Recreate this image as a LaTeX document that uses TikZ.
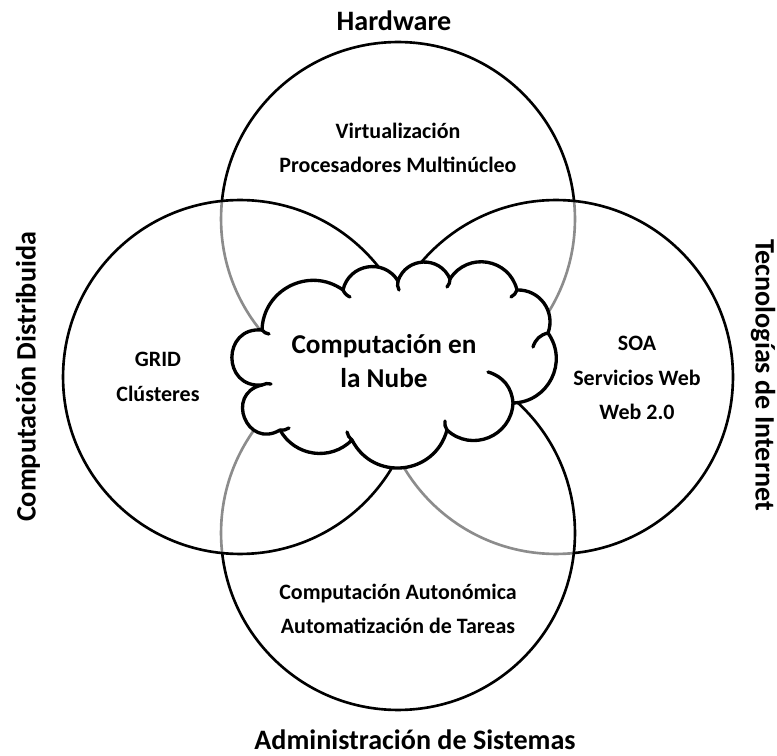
\documentclass[tikz,border=0pt]{standalone}
\usepackage{fontspec}
\setmainfont{Carlito}
\tikzset{
    ring/.style={circle,draw=black,line width=1.5pt,fill=white,fill opacity=0.55,minimum size=7.08cm,inner sep=0pt},
    topic/.style={align=center,font=\bfseries\fontsize{12.5}{19.5}\selectfont},
    heading/.style={font=\bfseries\fontsize{16}{19}\selectfont},
    nube/.style={draw=black,line width=1.9pt,fill=white,line join=round},
    hook/.style={draw=black,line width=1.9pt,line cap=round},
    puff/.style 2 args={bend left=#1,looseness=#2},
}

\begin{document}
\begin{tikzpicture}[x=0.02cm,y=-0.02cm]
    \useasboundingbox (0,0) rectangle (777,756);
    % the four areas, lowest first
    \node[ring] (hw) at (398,219) {};
    \node[ring] (inet) at (556,377) {};
    \node[ring] (admin) at (398,533) {};
    \node[ring] (dist) at (240,377) {};

    % cloud: cusps between the puffs, clockwise from the upper left
    \coordinate (c1) at (262,330);
    \coordinate (c2) at (343,290);
    \coordinate (c3) at (398,281);
    \coordinate (c4) at (450,279);
    \coordinate (c5) at (517,290);
    \coordinate (c6) at (548,333);
    \coordinate (c7) at (513,403);
    \coordinate (c8) at (447,430);
    \coordinate (c9) at (352,440);
    \coordinate (c10) at (280,430);
    \coordinate (c11) at (262,385);
    \path[nube] (c1) to[puff={62}{1.16}] (c2) to[puff={68}{1.24}] (c3)
        to[puff={69}{1.26}] (c4) to[puff={67}{1.23}] (c5) to[puff={56}{1.1}] (c6)
        to[puff={62}{1.16}] (c7) to[puff={65}{1.2}] (c8) to[puff={69}{1.26}] (c9)
        to[puff={53}{1.07}] (c10) to[puff={99}{2.03}] (c11) to[puff={95}{1.88}] (c1) -- cycle;
    % small curls inside the cloud
    \path[hook] (c1) to[bend right=20] (269,334);
    \path[hook] (c2) to[bend right=20] (350,297);
    \path[hook] (c3) to[bend right=20] (399,290);
    \path[hook] (c4) to[bend left=20] (447,287);
    \path[hook] (c5) to[bend left=20] (511,297);
    \path[hook] (c6) to[bend right=30] (533,347);
    \path[hook] (c7) to[bend right=35] (488,372);
    \path[hook] (c8) to[bend left=20] (445,421);
    \path[hook] (c9) to[bend left=20] (347,432);
    \path[hook] (c10) to[bend right=20] (289,428);
    \path[hook] (c11) to[bend left=20] (271,384);
    \node[font=\bfseries\fontsize{15.5}{19}\selectfont,align=center] (nubetext) at (384,361) {Computación en\\la Nube};

    % headings round the outside
    \node[heading] (hwname) at (394,21) {Hardware};
    \node[heading,rotate=90] (distname) at (28,377) {Computación Distribuida};
    \node[heading,rotate=-90] (inetname) at (763,375) {Tecnologías de Internet};
    \node[heading] (adminname) at (415,740) {Administración de Sistemas};

    % what each area holds
    \node[topic] (hwtext) at (398,148) {Virtualización\\Procesadores Multinúcleo};
    \node[topic] (disttext) at (158,377) {GRID\\Clústeres};
    \node[topic] (inettext) at (637,378) {SOA\\Servicios Web\\Web 2.0};
    \node[topic] (admintext) at (398,609) {Computación Autonómica\\Automatización de Tareas};
\end{tikzpicture}
\end{document}
